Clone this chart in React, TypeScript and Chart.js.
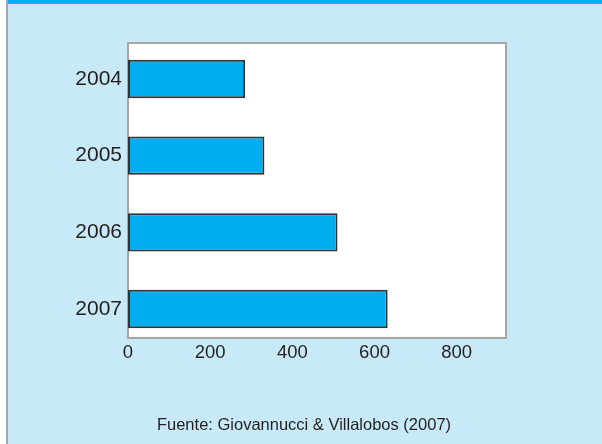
import React, { useEffect, useRef } from "react";
import { Chart, registerables } from "chart.js";

Chart.register(...registerables);

const years: string[] = ["2004", "2005", "2006", "2007"];
const values: number[] = [285, 332, 510, 632];
const xTicks: number[] = [0, 200, 400, 600, 800];
const caption = "Fuente: Giovannucci & Villalobos (2007)";

const FONT = "'Liberation Sans', Arial, Helvetica, sans-serif";

export default function App() {
  const ref = useRef<HTMLCanvasElement | null>(null);

  useEffect(() => {
    document.body.style.margin = "0";
    const canvas = ref.current;
    if (!canvas) return;

    const plotBg = {
      id: "plotBg",
      beforeDatasetsDraw(chart: any) {
        const { ctx, chartArea } = chart;
        ctx.save();
        ctx.fillStyle = "#ffffff";
        ctx.fillRect(chartArea.left, chartArea.top, chartArea.right - chartArea.left, chartArea.bottom - chartArea.top);
        ctx.strokeStyle = "#a6a6a6";
        ctx.lineWidth = 2;
        ctx.strokeRect(chartArea.left, chartArea.top, chartArea.right - chartArea.left, chartArea.bottom - chartArea.top);
        ctx.restore();
      },
    };

    const chart = new Chart(canvas, {
      type: "bar",
      data: {
        datasets: [
          {
            data: values.map((v, i) => ({ x: v, y: i })),
            backgroundColor: "#00aeef",
            borderColor: "#333333",
            borderWidth: 2,
            borderSkipped: false,
            barPercentage: 0.5,
            categoryPercentage: 1,
          },
        ],
      },
      options: {
        indexAxis: "y",
        animation: false,
        responsive: false,
        maintainAspectRatio: false,
        layout: { padding: { left: 0, top: 43, right: 96, bottom: 0 } },
        plugins: {
          legend: { display: false },
          tooltip: { enabled: false },
        },
        scales: {
          x: {
            type: "linear",
            min: 0,
            max: 920,
            offset: false,
            grid: { display: false, drawTicks: false },
            border: { display: false },
            afterBuildTicks(scale: any) {
              scale.ticks = xTicks.map((v) => ({ value: v }));
            },
            afterFit(scale: any) {
              scale.height = 444 - 338;
            },
            ticks: {
              padding: 4,
              color: "#231f20",
              font: { family: FONT, size: 18.5 },
              maxRotation: 0,
            },
          },
          y: {
            type: "linear",
            reverse: true,
            offset: false,
            min: -0.47,
            max: 3.378,
            grid: { display: false, drawTicks: false, offset: false },
            border: { display: false },
            afterBuildTicks(scale: any) {
              scale.ticks = years.map((_, i) => ({ value: i }));
            },
            afterFit(scale: any) {
              scale.width = 128;
            },
            ticks: {
              padding: 6,
              color: "#231f20",
              font: { family: FONT, size: 21 },
              callback: (v: any) => years[Number(v)] ?? "",
            },
          },
        },
      },
      plugins: [plotBg],
    } as any);

    return () => chart.destroy();
  }, []);

  return (
    <div
      style={{
        position: "fixed",
        left: 0,
        top: 0,
        width: 602,
        height: 444,
        background: "#ffffff",
        overflow: "hidden",
      }}
    >
      <div style={{ position: "absolute", left: 6, top: 0, width: 2, height: 444, background: "#a6a6a6" }} />
      <div style={{ position: "absolute", left: 8, top: 0, width: 594, height: 444, background: "#c7e9f8" }} />
      <div style={{ position: "absolute", left: 8, top: 0, width: 594, height: 4, background: "#00b0f0" }} />
      <canvas ref={ref} width={602} height={444} style={{ position: "absolute", left: 0, top: 0 }} />
      <div
        style={{
          position: "absolute",
          left: 0,
          width: 608,
          top: 416,
          lineHeight: 1,
          textAlign: "center",
          whiteSpace: "nowrap",
          fontFamily: FONT,
          fontSize: 16.5,
          color: "#231f20",
        }}
      >
        {caption}
      </div>
    </div>
  );
}
